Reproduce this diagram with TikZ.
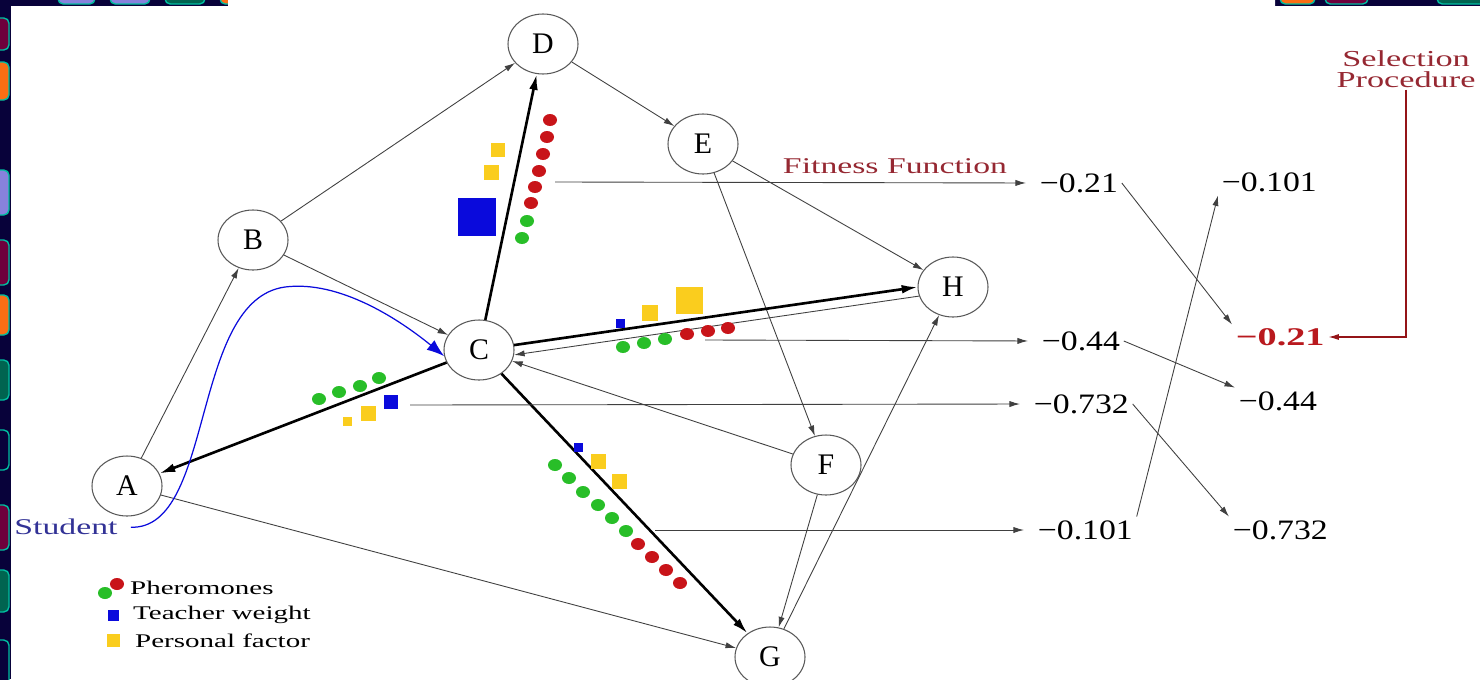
\documentclass[tikz,border=0pt]{standalone}
\usepackage{fontspec}
\setmainfont{Liberation Serif}[FakeStretch=1.5]
\newfontfamily\vertexfont{Liberation Serif}
\newfontfamily\valuefont{Liberation Serif}[FakeStretch=1.2]
\newfontfamily\bestfont{Liberation Serif Bold}[FakeStretch=1.5]
\definecolor{slidenavy}{RGB}{8,2,58}
\definecolor{tilelav}{RGB}{135,130,220}
\definecolor{tilegreen}{RGB}{0,100,80}
\definecolor{tilemaroon}{RGB}{110,0,60}
\definecolor{tileorange}{RGB}{250,110,20}
\definecolor{tileteal}{RGB}{0,190,160}
\definecolor{phgreen}{RGB}{40,190,40}
\definecolor{phred}{RGB}{200,20,25}
\definecolor{pfyellow}{RGB}{250,205,30}
\definecolor{twblue}{RGB}{10,10,220}
\definecolor{fitred}{RGB}{150,40,50}
\definecolor{selred}{RGB}{185,25,30}
\definecolor{studblue}{RGB}{50,50,150}
\usetikzlibrary{arrows.meta}
\usetikzlibrary{shapes.geometric}
\tikzset{
  vertex/.style={ellipse, draw=black!65, line width=0.6pt, minimum width=14mm, minimum height=12mm, inner sep=0pt, font=\vertexfont\fontsize{17}{19}\selectfont},
  edge/.style={draw=black!75, line width=0.5pt, -{Latex[length=6pt,width=3.5pt]}},
  heavy/.style={draw=black, line width=1.5pt, -{Latex[length=9pt,width=5pt]}},
  value/.style={anchor=west, inner sep=2pt, font=\valuefont\fontsize{16}{18}\selectfont},
}

\begin{document}
\begin{tikzpicture}[x=0.2mm, y=-0.2mm]
  \useasboundingbox (0,0) rectangle (1480,679);
  \clip (0,0) rectangle (1480,679);

  \fill[slidenavy] (0,0) rectangle (1480,679);
  \foreach \ya/\yb/\c in {18/50/tilemaroon, 62/100/tileorange, 170/215/tilelav, 240/285/tilemaroon, 295/335/tileorange, 360/400/tilegreen, 430/470/slidenavy, 505/550/tilemaroon, 570/612/tilegreen, 640/690/slidenavy}
    \filldraw[fill=\c, draw=tileteal, line width=0.8pt, rounded corners=3pt] (-30,\ya) rectangle (9,\yb);
  \foreach \xa/\xb/\c in {58/95/tilelav, 110/150/tilelav, 165/205/tilegreen, 220/250/tileorange, 1280/1315/tileorange, 1325/1368/tilemaroon, 1437/1500/tilegreen}
    \filldraw[fill=\c, draw=tileteal, line width=0.8pt, rounded corners=3pt] (\xa,-30) rectangle (\xb,4);
  \fill[white] (11,679) -- (11,6) -- (228,6) -- (228,0) -- (1275,0) -- (1275,6) -- (1480,6) -- (1480,679) -- cycle;

  \node[vertex] (A) at (127,486) {A};
  \node[vertex] (B) at (253,240) {B};
  \node[vertex] (C) at (479,350) {C};
  \node[vertex] (D) at (543,44) {D};
  \node[vertex] (E) at (703,144) {E};
  \node[vertex] (F) at (826,465) {F};
  \node[vertex] (G) at (770,657) {G};
  \node[vertex] (H) at (953,287) {H};

  \draw[edge] (A) -- (B);
  \draw[edge] (B) -- (D);
  \draw[edge] (B) -- (C);
  \draw[edge] (D) -- (E);
  \draw[edge] (E) -- (H);
  \draw[edge] (E) -- (F);
  \draw[edge] (F) -- (C);
  \draw[edge] (F) -- (G);
  \draw[edge] (G) -- (H);
  \draw[edge] (A) -- (G);
  \draw[edge] (H.195) -- (C.352);
  \draw[heavy] (C) -- (D);
  \draw[heavy] (C.8) -- (H.180);
  \draw[heavy] (C) -- (A);
  \draw[heavy] (C) -- (G);

  \node[text=studblue, font=\fontsize{12.8}{14}\selectfont] (stu) at (66,527) {Student};
  \draw[line width=0.7pt, shorten <=4pt, -{Latex[length=10pt,width=7pt]}, color=twblue]
    (stu.east) .. controls (215,530) and (190,300) .. (285,287) .. controls (340,280) and (400,320) .. (C.190);

  % pheromones, teacher weight, personal factor
  \foreach \p in {(527,221),(522,238),(623,347),(644,343),(665,339),(319,399),(339,392),(360,386),(379,378),(555,465),(569,478),(583,492),(598,505),(612,518),(626,531),(105,593)}
    \fill[phgreen] \p circle[x radius=7, y radius=6];
  \foreach \p in {(550,120),(547,137),(543,154),(539,171),(535,187),(531,203),(687,334),(708,331),(728,328),(638,544),(652,557),(666,570),(680,583),(117,584)}
    \fill[phred] \p circle[x radius=7, y radius=6];
  \foreach \x/\y/\s in {498/150/14, 491/172/15, 650/313/16, 689/300/27, 368/413/15, 347/421/9, 598/461/15, 619/481/15, 113/640/13}
    \fill[pfyellow] (\x-\s/2,\y-\s/2) rectangle ++(\s,\s);
  \foreach \x/\y/\s in {477/217/38, 620/323/9, 391/402/14, 578/447/9, 113/615/11}
    \fill[twblue] (\x-\s/2,\y-\s/2) rectangle ++(\s,\s);

  \begin{scope}[every node/.style={anchor=west, font=\fontsize{11}{13}\selectfont}]
    \node (leg1) at (124,588) {Pheromones};
    \node (leg2) at (127,615) {Teacher weight};
    \node (leg3) at (129,641) {Personal factor};
  \end{scope}

  \coordinate (p21) at (555,182);
  \coordinate (p44) at (705,340);
  \coordinate (p732) at (410,405);
  \coordinate (p101) at (655,530);

  \node[value] (v21) at (1036,183) {−0.21};
  \node[value] (v44) at (1038,341) {−0.44};
  \node[value] (v732) at (1030,404) {−0.732};
  \node[value] (v101) at (1034,530) {−0.101};
  \node[value] (s101) at (1218,182) {−0.101};
  \node[value, text=selred, font=\bestfont\fontsize{14.5}{16}\selectfont] (s21) at (1232,337) {−0.21};
  \node[value] (s44) at (1235,401) {−0.44};
  \node[value] (s732) at (1229,530) {−0.732};

  \node[text=fitred, font=\fontsize{12.8}{14}\selectfont] (fit) at (895,166) {Fitness Function};
  \node[text=fitred, align=center, inner sep=1pt, font=\fontsize{13}{12}\selectfont] (sel) at (1406,69) {Selection\\Procedure};

  \draw[edge, shorten >=2mm] (p21) -- (v21.west);
  \draw[edge, shorten >=2mm] (p44) -- (v44.west);
  \draw[edge, shorten >=2mm] (p732) -- (v732.west);
  \draw[edge, shorten >=2mm] (p101) -- (v101.west);
  \draw[edge] (v21.east) -- (s21.north west);
  \draw[edge] (v44.east) -- (s44.north west);
  \draw[edge] (v732.east) -- (s732.north west);
  \draw[edge] (v101.north east) -- (s101.south west);
  \draw[line width=0.7pt, -{Latex[length=6pt,width=3.5pt]}, color=selred!80!black] (sel.south) |- (s21.east);

\end{tikzpicture}
\end{document}
